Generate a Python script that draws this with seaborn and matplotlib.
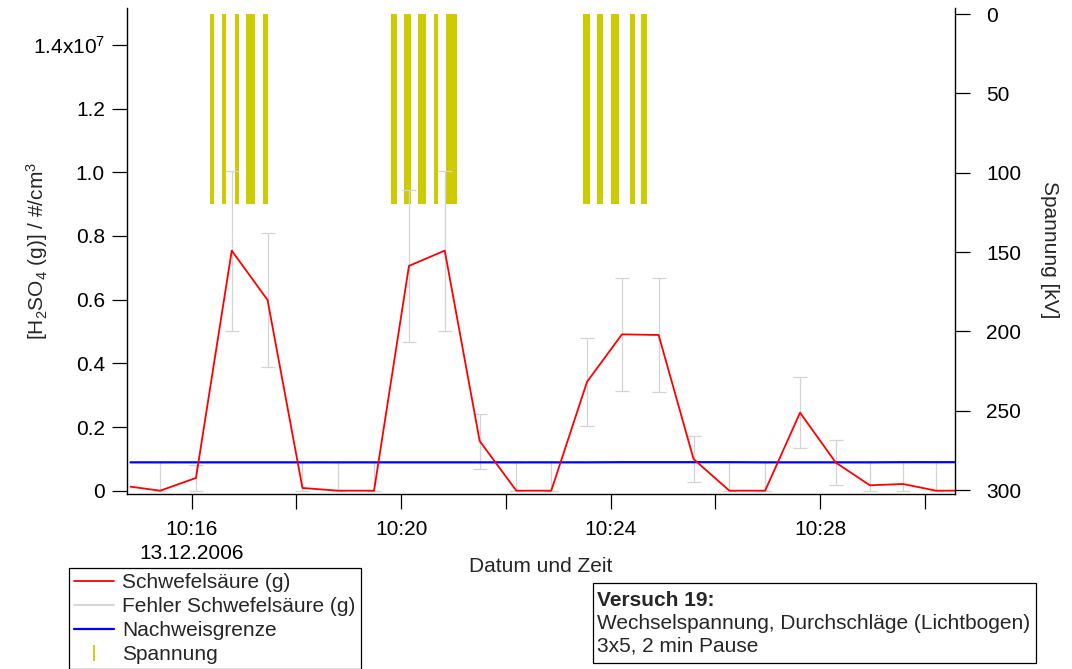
import numpy as np
import pandas as pd
import matplotlib
matplotlib.use("Agg")
import matplotlib.pyplot as plt
import matplotlib.dates as mdates
from matplotlib.lines import Line2D
from matplotlib.patches import Rectangle
from matplotlib.ticker import FixedLocator, FuncFormatter
import seaborn as sns

# ---- measurement data (13.12.2006, Versuch 19) ----
day = "2006-12-13"
sample_times = ["10:14:50", "10:15:24", "10:16:05", "10:16:46", "10:17:27",
                "10:18:07", "10:18:48", "10:19:29", "10:20:09", "10:20:50",
                "10:21:30", "10:22:12", "10:22:52", "10:23:33", "10:24:13",
                "10:24:55", "10:25:35", "10:26:16", "10:26:57", "10:27:37",
                "10:28:18", "10:28:57", "10:29:35", "10:30:13", "10:30:53"]
h2so4 = [1.26e5, 0.0, 4.0e5, 7.54e6, 5.99e6,
         8.5e4, 0.0, 0.0, 7.06e6, 7.54e6,
         1.56e6, 0.0, 0.0, 3.42e6, 4.91e6,
         4.89e6, 9.96e5, 0.0, 0.0, 2.45e6,
         8.8e5, 1.7e5, 2.1e5, 0.0, 0.0]
h2so4_err = [np.nan, 8.9e5, 4.0e5, 2.51e6, 2.09e6,
             8.1e5, 8.9e5, 8.9e5, 2.38e6, 2.51e6,
             8.64e5, 8.9e5, 8.9e5, 1.39e6, 1.78e6,
             1.79e6, 7.13e5, 8.9e5, 8.9e5, 1.11e6,
             7.0e5, 7.2e5, 6.8e5, 8.9e5, np.nan]
lod = [8.9e5, 8.9e5, 8.9e5, 8.9e5, 8.9e5,
       8.9e5, 8.9e5, 8.9e5, 8.9e5, 8.9e5,
       8.9e5, 8.9e5, 8.9e5, 8.9e5, 8.95e5,
       8.95e5, 8.95e5, 8.95e5, 8.9e5, 8.9e5,
       8.9e5, 8.9e5, 8.95e5, 8.95e5, 8.95e5]

# high-voltage discharges (start / end) and applied voltage in kV
hv_start = ["10:16:21.0", "10:16:34.7", "10:16:50.0", "10:17:01.9", "10:17:22.0",
            "10:19:48.0", "10:20:02.9", "10:20:18.9", "10:20:37.3", "10:20:51.4",
            "10:23:28.0", "10:23:44.3", "10:24:00.4", "10:24:22.1", "10:24:35.1"]
hv_end = ["10:16:25.2", "10:16:39.2", "10:16:54.2", "10:17:12.2", "10:17:27.1",
          "10:19:55.2", "10:20:11.3", "10:20:28.4", "10:20:42.5", "10:21:03.6",
          "10:23:36.3", "10:23:51.2", "10:24:09.5", "10:24:27.9", "10:24:41.3"]
hv_level = 120.0

x_left, x_right = "10:14:46", "10:30:34.5"
tick_times = ["10:16", "10:18", "10:20", "10:22", "10:24", "10:26", "10:28", "10:30"]
y_ticks = [0, 0.2e7, 0.4e7, 0.6e7, 0.8e7, 1.0e7, 1.2e7, 1.4e7]
kv_ticks = [0, 50, 100, 150, 200, 250, 300]

labels = ["Schwefelsäure (g)", "Fehler Schwefelsäure (g)", "Nachweisgrenze", "Spannung"]
note_title = "Versuch 19:"
note_lines = ["Wechselspannung, Durchschläge (Lichtbogen)", "3x5, 2 min Pause"]

# ---- style ----
sns.set_style("ticks")
plt.rcParams["font.family"] = ["Liberation Sans", "DejaVu Sans"]
plt.rcParams["mathtext.fontset"] = "custom"
plt.rcParams["mathtext.rm"] = "Liberation Sans"
plt.rcParams["mathtext.it"] = "Liberation Sans:italic"
plt.rcParams["mathtext.bf"] = "Liberation Sans:bold"
FS = 15
RED, BLUE, GREY, YELLOW = "#ff0000", "#0000ff", "#d4d4d4", "#cccc00"

def ts(s):
    return pd.Timestamp(f"{day} {s}")

df = pd.DataFrame({
    "Zeit": [ts(s) for s in sample_times],
    "H2SO4": h2so4,
    "Fehler": h2so4_err,
    "NWG": lod,
})

W, H = 1072, 669
fig = plt.figure(figsize=(W / 100, H / 100), dpi=100)
ax_l, ax_r, ax_t, ax_b = 127, 955, 8, 494
ax = fig.add_axes([ax_l / W, 1 - ax_b / H, (ax_r - ax_l) / W, (ax_b - ax_t) / H])
ax2 = ax.twinx()
ax.set_zorder(ax2.get_zorder() + 1)
ax.patch.set_visible(False)

# voltage sticks (right axis, drawn underneath)
starts = np.array([mdates.date2num(ts(s)) for s in hv_start])
ends = np.array([mdates.date2num(ts(s)) for s in hv_end])
ax2.bar(starts, height=hv_level, width=ends - starts, bottom=0, align="edge",
        color=YELLOW, linewidth=0)

# error bars, lower end limited at zero
vals = df["H2SO4"].to_numpy()
err = df["Fehler"].to_numpy()
lower = np.minimum(err, vals)
ax.errorbar(df["Zeit"], vals, yerr=[lower, err], fmt="none", ecolor=GREY,
            elinewidth=0.9, capsize=4.7, capthick=0.9, zorder=1)

sns.lineplot(data=df, x="Zeit", y="NWG", ax=ax, color=BLUE, linewidth=1.6,
             estimator=None, sort=False, legend=False, zorder=2)
sns.lineplot(data=df, x="Zeit", y="H2SO4", ax=ax, color=RED, linewidth=1.3,
             estimator=None, sort=False, legend=False, zorder=3)

# axes ranges
ax.set_xlim(mdates.date2num(ts(x_left)), mdates.date2num(ts(x_right)))
ax.set_ylim(-0.0104e7, 1.516e7)
ax2.set_ylim(302.5, -3.8)

# x ticks every 2 min, labelled every 4 min
tick_nums = [mdates.date2num(ts(s)) for s in tick_times]
ax.xaxis.set_major_locator(FixedLocator(tick_nums))

def fmt_time(x, pos):
    d = mdates.num2date(x)
    if d.minute % 4 != 0:
        return ""
    lab = f"{d.hour:02d}:{d.minute:02d}"
    if pos == 0:
        lab += "\n" + d.strftime("%d.%m.%Y")
    return lab

ax.xaxis.set_major_formatter(FuncFormatter(fmt_time))

ax.yaxis.set_major_locator(FixedLocator(y_ticks))

def fmt_conc(v, pos):
    if v == 0:
        return "0"
    if abs(v - 1.4e7) < 1:
        return r"1.4x10$^7$"
    return f"{v / 1e7:.1f}"

ax.yaxis.set_major_formatter(FuncFormatter(fmt_conc))
ax2.yaxis.set_major_locator(FixedLocator(kv_ticks))

ax.set_xlabel("")
ax.set_ylabel("")
ax2.set_ylabel("")

for s in ["top", "right"]:
    ax.spines[s].set_visible(False)
for s in ["top", "left", "bottom"]:
    ax2.spines[s].set_visible(False)
for sp in [ax.spines["left"], ax.spines["bottom"], ax2.spines["right"]]:
    sp.set_color("black")
    sp.set_linewidth(1.0)

ax.tick_params(axis="y", direction="out", length=10.5, width=0.9, pad=5.5,
               labelsize=FS, colors="black")
ax.tick_params(axis="x", direction="out", length=10.5, width=0.9, pad=8.5,
               labelsize=FS, colors="black")
ax2.tick_params(axis="y", direction="out", length=11, width=0.9, pad=11.5,
                labelsize=FS, colors="black")
for lab in ax.get_xticklabels():
    lab.set_linespacing(1.3)

# axis titles
fig.text(37 / W, 1 - 251 / H, r"[H$_2$SO$_4$ (g)] / #/cm$^3$", rotation=90,
         ha="center", va="center", fontsize=FS)
fig.text(1050 / W, 1 - 250 / H, "Spannung [kV]", rotation=270,
         ha="center", va="center", fontsize=FS)
fig.text(541 / W, 1 - 567 / H, "Datum und Zeit", ha="center", va="center",
         fontsize=FS)

# legend
handles = [
    Line2D([], [], color=RED, linewidth=1.3),
    Line2D([], [], color=GREY, linewidth=1.3),
    Line2D([], [], color=BLUE, linewidth=1.6),
    Line2D([], [], color=YELLOW, marker="|", markersize=11, markeredgewidth=1.3,
           linestyle="none"),
]
leg = fig.legend(handles, labels, loc="upper left",
                 bbox_to_anchor=(69 / W, 1 - 568 / H), frameon=True,
                 fancybox=False, edgecolor="black", framealpha=1, fontsize=FS,
                 handlelength=1.9, handletextpad=0.4, labelspacing=0.24,
                 borderpad=0.25, borderaxespad=0)
leg.get_frame().set_linewidth(0.9)

# annotation box
bx0, bx1, by0, by1 = 592.7, 1036, 583, 663
fig.patches.append(Rectangle((bx0 / W, 1 - by1 / H), (bx1 - bx0) / W,
                             (by1 - by0) / H, transform=fig.transFigure,
                             fill=False, edgecolor="black", linewidth=0.9))
fig.text(597 / W, 1 - 606.5 / H, note_title, fontsize=FS, fontweight="bold",
         va="baseline", ha="left")
for i, line in enumerate(note_lines):
    fig.text(597 / W, 1 - (629 + 22.8 * i) / H, line, fontsize=FS,
             va="baseline", ha="left")

fig.savefig("out.png", dpi=100)
